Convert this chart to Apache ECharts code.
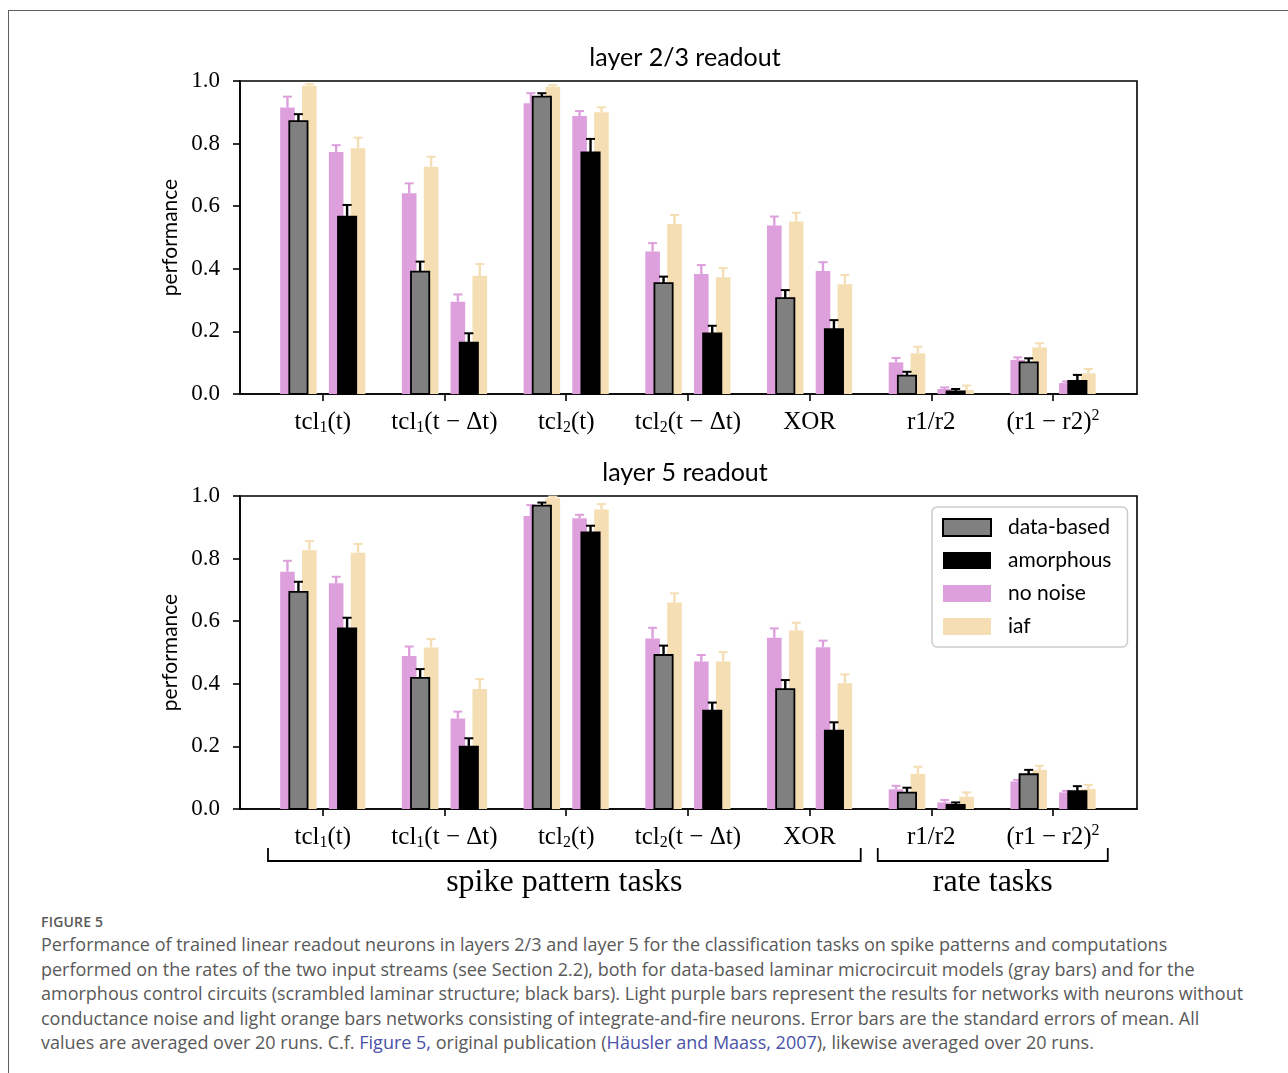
<!DOCTYPE html>
<html><head><meta charset="utf-8">
<script src="https://cdn.jsdelivr.net/npm/echarts@6/dist/echarts.min.js"></script>
<style>
html,body{margin:0;padding:0;background:#fff;width:1288px;height:1073px;overflow:hidden}
#frame{position:absolute;left:8px;top:10px;width:1300px;height:1100px;border:1.5px solid #5f5f5f;box-sizing:border-box}
#chart{position:absolute;left:0;top:0;width:1288px;height:905px}
#cap{position:absolute;left:41px;top:912px;font-family:'Open Sans',sans-serif;color:#595959}
.fig{font-size:14px;font-weight:600;letter-spacing:0.2px;line-height:19px}
.txt{font-size:18px;line-height:24.6px;white-space:nowrap;margin-top:1px}
.lnk{color:#4a52a8}
</style></head>
<body>
<div id="frame"></div>
<div id="chart"></div>
<div id="cap">
<div class="fig">FIGURE 5</div>
<div class="txt">Performance of trained linear readout neurons in layers 2/3 and layer 5 for the classification tasks on spike patterns and computations<br>performed on the rates of the two input streams (see Section 2.2), both for data-based laminar microcircuit models (gray bars) and for the<br>amorphous control circuits (scrambled laminar structure; black bars). Light purple bars represent the results for networks with neurons without<br>conductance noise and light orange bars networks consisting of integrate-and-fire neurons. Error bars are the standard errors of mean. All<br>values are averaged over 20 runs. C.f. <span class="lnk">Figure 5,</span> original publication (<span class="lnk">Häusler and Maass, 2007</span>), likewise averaged over 20 runs.</div>
</div>
<script>
// ---- tick labels / categories ----
const tickLabels = ['tcl{s|1}(t)', 'tcl{s|1}(t − Δt)', 'tcl{s|2}(t)', 'tcl{s|2}(t − Δt)', 'XOR', 'r1/r2', '(r1 − r2){p|2}'];
const yTicks = [0, 0.2, 0.4, 0.6, 0.8, 1.0];
const panelTitles = ['layer 2/3 readout', 'layer 5 readout'];

// ---- layer 2/3 readout ----
const l23NoNoiseA = [0.915, 0.641, 0.929, 0.455, 0.538, 0.101, 0.109];
const l23NoNoiseAErr = [0.035, 0.032, 0.032, 0.027, 0.029, 0.014, 0.008];
const l23DataBased = [0.872, 0.391, 0.950, 0.354, 0.306, 0.059, 0.101];
const l23DataBasedErr = [0.022, 0.032, 0.011, 0.021, 0.026, 0.012, 0.013];
const l23IafA = [0.985, 0.726, 0.982, 0.543, 0.551, 0.130, 0.149];
const l23IafAErr = [0.005, 0.032, 0.005, 0.029, 0.028, 0.021, 0.013];
const l23NoNoiseB = [0.773, 0.295, 0.888, 0.383, 0.393, 0.016, 0.035];
const l23NoNoiseBErr = [0.022, 0.023, 0.016, 0.029, 0.028, 0.005, 0.005];
const l23Amorphous = [0.567, 0.164, 0.772, 0.194, 0.207, 0.008, 0.042];
const l23AmorphousErr = [0.037, 0.030, 0.043, 0.024, 0.029, 0.008, 0.019];
const l23IafB = [0.785, 0.378, 0.900, 0.373, 0.351, 0.013, 0.066];
const l23IafBErr = [0.034, 0.037, 0.016, 0.029, 0.029, 0.014, 0.014];

// ---- layer 5 readout ----
const l5NoNoiseA = [0.758, 0.489, 0.936, 0.545, 0.547, 0.063, 0.088];
const l5NoNoiseAErr = [0.035, 0.030, 0.035, 0.034, 0.030, 0.011, 0.005];
const l5DataBased = [0.694, 0.419, 0.969, 0.492, 0.383, 0.052, 0.111];
const l5DataBasedErr = [0.032, 0.028, 0.010, 0.030, 0.029, 0.016, 0.014];
const l5IafA = [0.827, 0.516, 0.993, 0.660, 0.570, 0.112, 0.125];
const l5IafAErr = [0.029, 0.027, 0.005, 0.029, 0.025, 0.023, 0.013];
const l5NoNoiseB = [0.721, 0.289, 0.929, 0.471, 0.517, 0.021, 0.053];
const l5NoNoiseBErr = [0.021, 0.022, 0.011, 0.021, 0.021, 0.008, 0.005];
const l5Amorphous = [0.577, 0.199, 0.884, 0.314, 0.250, 0.013, 0.057];
const l5AmorphousErr = [0.034, 0.027, 0.021, 0.026, 0.027, 0.008, 0.016];
const l5IafB = [0.819, 0.383, 0.957, 0.471, 0.402, 0.039, 0.064];
const l5IafBErr = [0.028, 0.032, 0.017, 0.030, 0.028, 0.014, 0.013];

// ---- styling ----
const C = { gray: '#808080', black: '#000000', plum: '#dda0dd', wheat: '#f5deb3' };
const SERIF = 'Liberation Serif';
const SANS = 'Lato';
const catIdx = tickLabels.map((_, i) => i);

function barSeries(name, panel, vals, errs, offset, width, fill, edge, errColor) {
  return {
    type: 'custom', name: name, xAxisIndex: panel, yAxisIndex: panel,
    itemStyle: { color: fill },
    data: vals.map((v, i) => [catIdx[i], v, errs[i]]),
    renderItem: function (params, api) {
      const x = api.value(0), v = api.value(1), e = api.value(2);
      const p0 = api.coord([x + offset - width / 2, v]);
      const p1 = api.coord([x + offset + width / 2, 0]);
      const base = api.coord([x + offset, v]);
      const top = api.coord([x + offset, v + e]);
      const ch = [];
      ch.push({ type: 'rect', shape: { x: p0[0], y: p0[1], width: p1[0] - p0[0], height: p1[1] - p0[1] },
        style: { fill: fill, stroke: edge || null, lineWidth: edge ? 1.8 : 0 } });
      ch.push({ type: 'line', shape: { x1: base[0], y1: base[1], x2: top[0], y2: top[1] },
        style: { stroke: errColor, lineWidth: 2.4 } });
      ch.push({ type: 'line', shape: { x1: top[0] - 4.5, y1: top[1], x2: top[0] + 4.5, y2: top[1] },
        style: { stroke: errColor, lineWidth: 2 } });
      return { type: 'group', children: ch };
    }
  };
}

const G = 0.2, MW = 0.15, SW = 0.12, SO = 0.09;
function panelSeries(p, d) {
  return [
    barSeries('no noise', p, d.nnA, d.nnAe, -G - SO, SW, C.plum, null, C.plum),
    barSeries('iaf', p, d.iaA, d.iaAe, -G + SO, SW, C.wheat, null, C.wheat),
    barSeries('no noise', p, d.nnB, d.nnBe, G - SO, SW, C.plum, null, C.plum),
    barSeries('iaf', p, d.iaB, d.iaBe, G + SO, SW, C.wheat, null, C.wheat),
    barSeries('data-based', p, d.db, d.dbe, -G, MW, C.gray, '#000', '#000'),
    barSeries('amorphous', p, d.am, d.ame, G, MW, C.black, '#000', '#000')
  ];
}

const series = [].concat(
  panelSeries(0, { nnA: l23NoNoiseA, nnAe: l23NoNoiseAErr, iaA: l23IafA, iaAe: l23IafAErr,
    nnB: l23NoNoiseB, nnBe: l23NoNoiseBErr, iaB: l23IafB, iaBe: l23IafBErr,
    db: l23DataBased, dbe: l23DataBasedErr, am: l23Amorphous, ame: l23AmorphousErr }),
  panelSeries(1, { nnA: l5NoNoiseA, nnAe: l5NoNoiseAErr, iaA: l5IafA, iaAe: l5IafAErr,
    nnB: l5NoNoiseB, nnBe: l5NoNoiseBErr, iaB: l5IafB, iaBe: l5IafBErr,
    db: l5DataBased, dbe: l5DataBasedErr, am: l5Amorphous, ame: l5AmorphousErr })
);

const axisLineStyle = { color: '#000', width: 1.6 };
function xAxisFor(i) {
  return {
    gridIndex: i, type: 'value', min: -0.68, max: 6.69,
    splitLine: { show: false },
    axisLine: { show: true, onZero: false, lineStyle: axisLineStyle },
    axisTick: { show: true, customValues: catIdx, length: 7, inside: false, lineStyle: axisLineStyle },
    axisLabel: {
      show: true, customValues: catIdx, margin: 14,
      formatter: v => tickLabels[Math.round(v)],
      fontFamily: SERIF, fontSize: 25, color: '#000', lineHeight: 28,
      rich: {
        s: { fontFamily: SERIF, fontSize: 16, lineHeight: 16, verticalAlign: 'bottom', color: '#000' },
        p: { fontFamily: SERIF, fontSize: 16, lineHeight: 16, verticalAlign: 'top', color: '#000' }
      }
    }
  };
}
function yAxisFor(i) {
  return {
    gridIndex: i, type: 'value', min: yTicks[0], max: yTicks[yTicks.length - 1], interval: 0.2,
    splitLine: { show: false },
    axisLine: { show: true, onZero: false, lineStyle: axisLineStyle },
    axisTick: { show: true, length: 7, inside: false, lineStyle: axisLineStyle },
    axisLabel: { margin: 20, formatter: v => v.toFixed(1), fontFamily: SERIF, fontSize: 23, color: '#000' },
    name: 'performance', nameLocation: 'middle', nameGap: 56,
    nameTextStyle: { fontFamily: SANS, fontSize: 21, color: '#000' }
  };
}

const chart = echarts.init(document.getElementById('chart'), null, { renderer: 'canvas' });
chart.setOption({
  animation: false,
  backgroundColor: 'transparent',
  grid: [
    { left: 240, top: 81, width: 897, height: 313, show: true, borderColor: '#000', borderWidth: 1.6, backgroundColor: 'transparent' },
    { left: 240, top: 496, width: 897, height: 313, show: true, borderColor: '#000', borderWidth: 1.6, backgroundColor: 'transparent' }
  ],
  xAxis: [xAxisFor(0), xAxisFor(1)],
  yAxis: [yAxisFor(0), yAxisFor(1)],
  legend: {
    selectedMode: false, orient: 'vertical', left: 932, top: 507,
    icon: 'rect', itemWidth: 48, itemHeight: 17, itemGap: 12,
    padding: [10, 16, 10, 10],
    backgroundColor: '#fff', borderColor: '#cccccc', borderWidth: 1.5, borderRadius: 5,
    textStyle: { fontFamily: SANS, fontSize: 21, color: '#000', lineHeight: 21, padding: [0, 0, 0, 12] },
    data: [
      { name: 'data-based', itemStyle: { color: C.gray, borderColor: '#000', borderWidth: 2 } },
      { name: 'amorphous', itemStyle: { color: C.black } },
      { name: 'no noise', itemStyle: { color: C.plum } },
      { name: 'iaf', itemStyle: { color: C.wheat } }
    ]
  },
  series: series
});

// annotations: panel titles and task-group brackets
const px = v => chart.convertToPixel({ xAxisIndex: 1 }, v);
const bracketTop = 848, bracketBot = 861;
const groups = [
  { label: 'spike pattern tasks', from: -0.45, to: 4.42 },
  { label: 'rate tasks', from: 4.56, to: 6.45 }
];
const graphic = [
  { type: 'text', x: 685, y: 58, style: { text: panelTitles[0], fontFamily: SANS, fontSize: 25, fill: '#000', align: 'center', verticalAlign: 'middle' } },
  { type: 'text', x: 685, y: 473, style: { text: panelTitles[1], fontFamily: SANS, fontSize: 25, fill: '#000', align: 'center', verticalAlign: 'middle' } }
];
groups.forEach(g => {
  const a = px(g.from), b = px(g.to);
  graphic.push({ type: 'polyline', shape: { points: [[a, bracketTop], [a, bracketBot], [b, bracketBot], [b, bracketTop]] },
    style: { stroke: '#000', lineWidth: 1.8, fill: null } });
  graphic.push({ type: 'text', x: (a + b) / 2, y: 883, style: { text: g.label, fontFamily: SERIF, fontSize: 32, fill: '#000', align: 'center', verticalAlign: 'middle' } });
});
chart.setOption({ graphic: graphic });
</script>
</body></html>
